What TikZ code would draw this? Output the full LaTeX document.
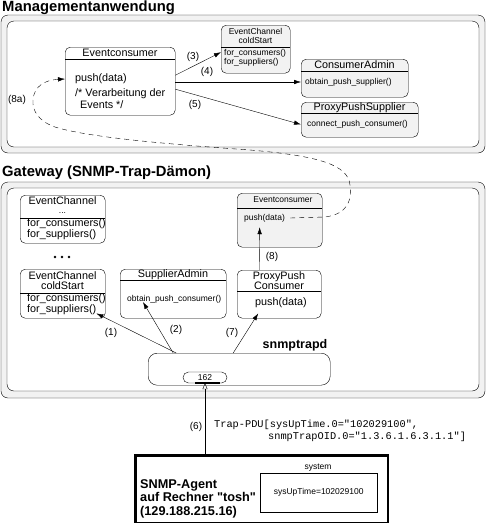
\documentclass[tikz,border=0pt]{standalone}
\usepackage{fontspec}
\setmainfont{Liberation Sans}
\setmonofont{Liberation Mono}
\usetikzlibrary{arrows.meta}

\begin{document}
\begin{tikzpicture}[x=1pt,y=-1pt,
  frame/.style={draw, rounded corners=7pt, fill=gray!10},
  innerframe/.style={draw, rounded corners=7pt, fill=white},
  cls/.style={draw, rounded corners=5pt, inner sep=0pt, anchor=north west},
  sectitle/.style={anchor=west, inner sep=0pt, font=\fontsize{14.8}{16}\selectfont\bfseries},
  txt/.style={inner sep=0pt, font=\fontsize{10.8}{9.8}\selectfont},
  tiny/.style={inner sep=0pt, font=\fontsize{8.5}{9}\selectfont},
  lbl/.style={inner sep=0pt, font=\fontsize{10}{12}\selectfont},
  mono/.style={inner sep=0pt, anchor=west, font=\ttfamily\fontsize{10.3}{12}\selectfont},
  call/.style={-{Latex[length=7pt,width=4.5pt]}},
  dashed8a/.style={dash pattern=on 5pt off 4pt, -{Latex[length=7pt,width=4.5pt]}},
]
\useasboundingbox (0,0) rectangle (486,523);

% Managementanwendung
\node[sectitle] (mgmt) at (2,7.5) {Managementanwendung};
\draw[frame] (1,15) rectangle (485,153);
\draw[innerframe] (7,21) rectangle (479,147);

\node[cls, minimum width=110pt, minimum height=68pt] (mec) at (65,47) {};
\draw (65,59) -- (175,59);
\node[txt] (mecname) at (120,53) {Eventconsumer};
\node[txt, anchor=west] (push) at (75,79) {push(data)};
\node[txt, anchor=west] (verarb) at (75,94) {/* Verarbeitung der};
\node[txt, anchor=west] (events) at (80,105) {Events */};

\node[cls, fill=gray!10, minimum width=69pt, minimum height=48pt] (ecm) at (221,25) {};
\draw (221,47) -- (290,47);
\node[tiny, align=center] (ecmname) at (255.5,36) {EventChannel\\coldStart};
\node[tiny, anchor=west, align=left] (ecmops) at (224,58) {for\_consumers()\\for\_suppliers()};

\node[cls, fill=gray!10, minimum width=107pt, minimum height=38pt] (cadm) at (301,59) {};
\draw (301,71) -- (408,71);
\node[txt] (cadmname) at (354.5,65) {ConsumerAdmin};
\node[tiny, anchor=west] (caop) at (305,82) {obtain\_push\_supplier()};

\node[cls, fill=gray!10, minimum width=117pt, minimum height=35pt] (ppsup) at (301,102) {};
\draw (301,113) -- (418,113);
\node[txt] (ppsupname) at (359.5,108) {ProxyPushSupplier};
\node[tiny, anchor=west] (ppop) at (307,124.5) {connect\_push\_consumer()};

\draw[call] ([yshift=6pt]mec.east) -- ([yshift=-3pt]ecm.west);
\draw[call] (mec.east |- caop.west) -- (cadm.west |- caop.west);
\draw[call] ([yshift=-8pt]mec.east) -- (ppsup.west |- ppop.west);
\node[lbl] (l3) at (193,57) {(3)};
\node[lbl] (l4) at (207,72) {(4)};
\node[lbl] (l5) at (195,105) {(5)};

% Gateway
\node[sectitle] (gw) at (2,172.5) {Gateway (SNMP-Trap-Dämon)};
\draw[frame] (1,182) rectangle (485,398);
\draw[innerframe] (7,188) rectangle (479,391);

\node[cls, minimum width=85pt, minimum height=48pt] (ecd) at (20,195) {};
\draw (20,218) -- (105,218);
\node[txt] (ecdname) at (62.5,201) {EventChannel};
\node[tiny, anchor=base] (ecddots) at (62.5,213.5) {...};
\node[txt, anchor=west, align=left] (ecdops) at (27,229) {for\_consumers()\\for\_suppliers()};

\fill (55,257) circle (1.4pt) (62,257) circle (1.4pt) (69,257) circle (1.4pt);

\node[cls, minimum width=85pt, minimum height=49pt] (ecc) at (20,269) {};
\draw (20,293) -- (105,293);
\node[txt, align=center] (eccname) at (62.5,281) {EventChannel\\coldStart};
\node[txt, anchor=west, align=left] (eccops) at (27,304) {for\_consumers()\\for\_suppliers()};

\node[cls, minimum width=106pt, minimum height=49pt] (sadm) at (120,269) {};
\draw (120,280) -- (226,280);
\node[txt] (sadmname) at (173,274.5) {SupplierAdmin};
\node[tiny, anchor=west] (saop) at (127,299) {obtain\_push\_consumer()};

\node[cls, minimum width=84pt, minimum height=48pt] (ppc) at (237,270) {};
\draw (237,291) -- (321,291);
\node[txt, align=center] (ppcname) at (279,281) {ProxyPush\\Consumer};
\node[txt] (ppush) at (281,303) {push(data)};

\node[cls, fill=gray!10, minimum width=85pt, minimum height=54pt] (gwec) at (237,193) {};
\draw (237,208) -- (322,208);
\node[tiny] (gwecname) at (283,200) {Eventconsumer};
\node[tiny, anchor=west] (gpush) at (244,218) {push(data)};

\node[draw, rounded corners=9pt, minimum width=182pt, minimum height=32pt, anchor=north west, inner sep=0pt] (trapd) at (148,353) {};
\node[inner sep=0pt, font=\fontsize{12.5}{14}\selectfont\bfseries] (trapdname) at (295,345) {snmptrapd};
\node[draw, rounded corners=5.5pt, minimum width=44pt, minimum height=11pt, inner sep=0pt, font=\fontsize{8.5}{9}\selectfont] (port) at (205,377.5) {162};
\draw[line width=2pt] (195,383) -- (220,383);

\draw[call] ([xshift=-63pt]trapd.north) -- ([xshift=-9pt,yshift=5pt]ecc.south east);
\draw[call] ([xshift=-66pt]trapd.north) -- ([xshift=16pt,yshift=-3pt]saop.west);
\draw[call] ([xshift=-6pt]trapd.north) -- ([xshift=-21pt,yshift=5pt]ppc.south);
\draw[call] ([xshift=-20pt]ppc.north) -- ([xshift=-20pt,yshift=-7pt]gwec.center);
\node[lbl] (l1) at (111,333) {(1)};
\node[lbl] (l2) at (176,330) {(2)};
\node[lbl] (l7) at (232,333) {(7)};
\node[lbl] (l8) at (272,257) {(8)};

\draw[dashed8a] ([xshift=5pt]gpush.east) -- (325,217) .. controls (348,214) and (352,200) .. (350,185)
  .. controls (348,165) and (320,156) .. (250,150) .. controls (180,145) and (90,138) .. (55,127)
  .. controls (38,121) and (32,110) .. (33,100) .. controls (34,86) and (45,80) .. (mec.west |- push.west);
\node[lbl] (l8a) at (17,100) {(8a)};

% SNMP-Agent
\node[draw, line width=2.5pt, minimum width=252.5pt, minimum height=67.5pt, anchor=north west, inner sep=0pt] (agent) at (134.25,454.25) {};
\node[inner sep=0pt, anchor=west, align=left, font=\fontsize{12.7}{13.5}\selectfont\bfseries] (agentname) at (140,498.5) {SNMP-Agent\\auf Rechner \textquotedbl tosh\textquotedbl\\(129.188.215.16)};
\node[draw, minimum width=117pt, minimum height=39pt, anchor=north west, inner sep=0pt, font=\fontsize{8.5}{9}\selectfont] (sysbox) at (260,473) {sysUpTime=102029100};
\node[tiny] (syslbl) at (318,468) {system};

\draw[-{Triangle[open,length=6pt,width=5pt]}] (port.south |- agent.north) -- (port.south);
\node[lbl] (l6) at (196,427) {(6)};
\node[mono] (pdu1) at (214,425) {Trap-PDU[sysUpTime.0="102029100",};
\node[mono] (pdu2) at (268,437) {snmpTrapOID.0="1.3.6.1.6.3.1.1"]};

\end{tikzpicture}
\end{document}
